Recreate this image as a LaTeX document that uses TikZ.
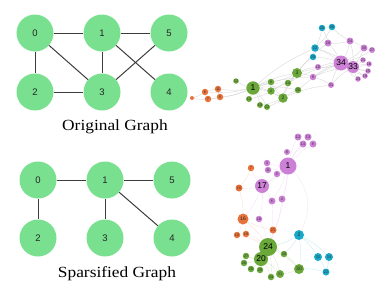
\documentclass[tikz,border=0pt]{standalone}
\usepackage{fontspec}
\setmainfont{Liberation Serif}
\newfontfamily\labelfont{Liberation Sans}
\pgfdeclarelayer{edges}
\pgfsetlayers{edges,main}
\definecolor{mint}{RGB}{120,224,143}
\definecolor{cgreen}{RGB}{106,168,58}
\definecolor{cpurple}{RGB}{204,128,214}
\definecolor{cteal}{RGB}{24,168,200}
\definecolor{corange}{RGB}{232,114,58}
\definecolor{gline}{RGB}{60,60,60}
\tikzset{
  bignode/.style={circle, fill=mint, minimum size=37pt, inner sep=0pt,
    font=\labelfont\fontsize{9.5}{10}\selectfont, text=black!85},
  gedge/.style={draw=gline, line width=1pt},
  caption/.style={font=\fontsize{15.5}{17}\selectfont, xscale=1.12},
  net/.style={circle, inner sep=0pt, minimum size=#1, text=black!80,
    font=\labelfont\fontsize{3.8}{3.8}\selectfont},
  gn/.style={net=#1, fill=cgreen},
  pn/.style={net=#1, fill=cpurple},
  tn/.style={net=#1, fill=cteal},
  on/.style={net=#1, fill=corange},
  hub/.style={font=\labelfont\fontsize{8.5}{9}\selectfont, text=black},
  mid/.style={font=\labelfont\fontsize{5}{5}\selectfont, text=black!85},
  ne/.style={draw=#1, line width=0.3pt, bend left=8},
}
\begin{document}
\begin{tikzpicture}[x=1pt,y=-1pt]
\useasboundingbox (0,0) rectangle (390,300);

% ---------- original graph ----------
\node[bignode] (o0) at (35,33) {0};
\node[bignode] (o1) at (102,33) {1};
\node[bignode] (o5) at (169,33) {5};
\node[bignode] (o2) at (35,92) {2};
\node[bignode] (o3) at (102,92) {3};
\node[bignode] (o4) at (169,92) {4};
\draw[gedge] (o0) -- (o1);
\draw[gedge] (o1) -- (o5);
\draw[gedge] (o0) -- (o2);
\draw[gedge] (o0) -- (o3);
\draw[gedge] (o1) -- (o3);
\draw[gedge] (o2) -- (o3);
\draw[gedge] (o1) -- (o4);
\draw[gedge] (o5) -- (o3);
\node[caption] (cap1) at (115,127) {Original Graph};

% ---------- sparsified graph ----------
\node[bignode] (s0) at (38,180) {0};
\node[bignode] (s1) at (105,180) {1};
\node[bignode] (s5) at (172,180) {5};
\node[bignode] (s2) at (38,238) {2};
\node[bignode] (s3) at (105,238) {3};
\node[bignode] (s4) at (172,238) {4};
\draw[gedge] (s0) -- (s1);
\draw[gedge] (s1) -- (s5);
\draw[gedge] (s0) -- (s2);
\draw[gedge] (s1) -- (s3);
\draw[gedge] (s1) -- (s4);
\node[caption] (cap2) at (117,274) {Sparsified Graph};

% ---------- community layout of the full network ----------
\node[gn=13.4pt, hub] (a1) at (253,88) {1};
\node[gn=9.5pt, mid] (a2) at (283,98) {2};
\node[gn=10pt, mid] (a3) at (297,73) {3};
\node[gn=7.5pt] (a4) at (271,91) {4};
\node[on=6.5pt] (a5) at (220,97) {5};
\node[on=6.5pt] (a6) at (205,92) {6};
\node[on=6.5pt] (a7) at (208,99) {7};
\node[gn=6.5pt] (a8) at (271,82) {8};
\node[pn=6.5pt] (a9) at (313,77) {9};
\node[pn=6pt] (a10) at (318,67) {10};
\node[on=6.5pt] (a11) at (218,89) {11};
\node[gn=5.5pt] (a12) at (236,81) {12};
\node[gn=6pt] (a13) at (249,99) {13};
\node[gn=6.5pt] (a14) at (288,83) {14};
\node[pn=5.5pt] (a15) at (368,71) {15};
\node[pn=5.5pt] (a16) at (369,64) {16};
\node[on=4pt] (a17) at (192,98) {};
\node[gn=6pt] (a18) at (260,105) {18};
\node[pn=5.5pt] (a19) at (365,76) {19};
\node[gn=6.5pt] (a20) at (298,90) {20};
\node[pn=5.5pt] (a21) at (363,60) {21};
\node[gn=6pt] (a22) at (267,107) {22};
\node[pn=5.5pt] (a23) at (358,79) {23};
\node[pn=7pt] (a24) at (350,41) {24};
\node[tn=6.5pt] (a25) at (322,28) {25};
\node[tn=6.5pt] (a26) at (332,27) {26};
\node[pn=6pt] (a27) at (372,50) {27};
\node[pn=7pt] (a28) at (328,43) {28};
\node[tn=6.5pt] (a29) at (313,57) {29};
\node[pn=7pt] (a30) at (364,48) {30};
\node[pn=6pt] (a31) at (331,85) {31};
\node[tn=7.5pt] (a32) at (315,48) {32};
\node[pn=12pt, hub] (a33) at (353,67) {33};
\node[pn=15pt, hub] (a34) at (341,63) {34};

\begin{pgfonlayer}{edges}
\foreach \u/\v in {1/2,1/3,1/4,1/5,1/6,1/7,1/8,1/9,1/11,1/12,1/13,1/14,1/18,1/20,1/22,1/32,
  2/3,2/4,2/8,2/14,2/18,2/20,2/22,2/31,3/4,3/8,3/9,3/10,3/14,3/28,3/29,3/33,
  4/8,4/13,4/14,5/7,5/11,6/7,6/11,6/17,7/17,9/31,9/33,9/34,10/34,14/34,
  15/33,15/34,16/33,16/34,19/33,19/34,20/34,21/33,21/34,23/33,23/34,
  24/26,24/28,24/30,24/33,24/34,25/26,25/28,25/32,26/32,27/30,27/34,28/34,
  29/32,29/34,30/33,30/34,31/33,31/34,32/33,32/34,33/34}
  \draw[ne=black!18] (a\u) to (a\v);
\end{pgfonlayer}

% ---------- community layout of the sparsified network ----------
\node[pn=17pt, hub] (b1) at (288,166) {1};
\node[tn=10pt, mid] (b2) at (299,235) {2};
\node[pn=6.5pt] (b3) at (267,163) {3};
\node[pn=7pt] (b4) at (282,199) {4};
\node[pn=6.5pt] (b5) at (277,174) {5};
\node[pn=7pt] (b6) at (272,201) {6};
\node[on=6.5pt] (b7) at (251,168) {7};
\node[pn=6pt] (b8) at (287,152) {8};
\node[pn=7pt] (b9) at (313,144) {9};
\node[on=6.5pt] (b10) at (237,235) {10};
\node[pn=6.5pt] (b11) at (268,170) {11};
\node[pn=7pt] (b12) at (298,137) {12};
\node[pn=7pt] (b13) at (308,137) {13};
\node[pn=7pt] (b14) at (303,144) {14};
\node[on=7pt] (b15) at (239,188) {15};
\node[on=11pt, mid] (b16) at (243,219) {16};
\node[pn=14pt, hub] (b17) at (262,186) {17};
\node[pn=6.5pt] (b18) at (259,219) {18};
\node[on=6.5pt] (b19) at (246,234) {19};
\node[gn=14pt, hub] (b20) at (261,259) {20};
\node[on=7pt] (b21) at (273,230) {21};
\node[tn=7pt] (b22) at (326,272) {22};
\node[gn=18pt, hub] (b24) at (268,247) {24};
\node[gn=6.5pt] (b25) at (251,269) {25};
\node[gn=6.5pt] (b26) at (244,263) {26};
\node[gn=6.5pt] (b27) at (246,256) {27};
\node[gn=6.5pt] (b28) at (284,254) {28};
\node[gn=6.5pt] (b29) at (260,270) {29};
\node[gn=10pt, mid] (b30) at (299,269) {30};
\node[gn=8pt] (b31) at (280,274) {31};
\node[tn=8pt] (b32) at (318,257) {32};
\node[tn=8pt] (b33) at (329,257) {33};
\node[gn=6.5pt] (b34) at (271,277) {34};

\begin{pgfonlayer}{edges}
\foreach \u/\v in {1/12,1/13,1/14,1/9,1/8,1/3,1/11,1/5,1/17,1/6,1/4,1/24,
  17/15,17/7,17/6,17/16,17/18,3/11,5/17,6/24,4/24,18/24,21/24}
  \draw[ne=cpurple!25] (b\u) to (b\v);
\draw[ne=cpurple!25, bend left=35] (b1) to (b2);
\foreach \u/\v in {15/16,16/10,16/19,16/24,7/15,19/24,10/24,21/16}
  \draw[ne=corange!25] (b\u) to (b\v);
\foreach \u/\v in {2/24,2/32,2/33,2/30,33/22,32/22,30/22,2/28}
  \draw[ne=cteal!28] (b\u) to (b\v);
\foreach \u/\v in {24/20,24/28,24/30,24/31,24/34,20/27,20/26,20/25,20/29,20/31,
  28/30,31/34,30/31,24/29,20/34}
  \draw[ne=cgreen!28] (b\u) to (b\v);
\end{pgfonlayer}
\end{tikzpicture}
\end{document}
